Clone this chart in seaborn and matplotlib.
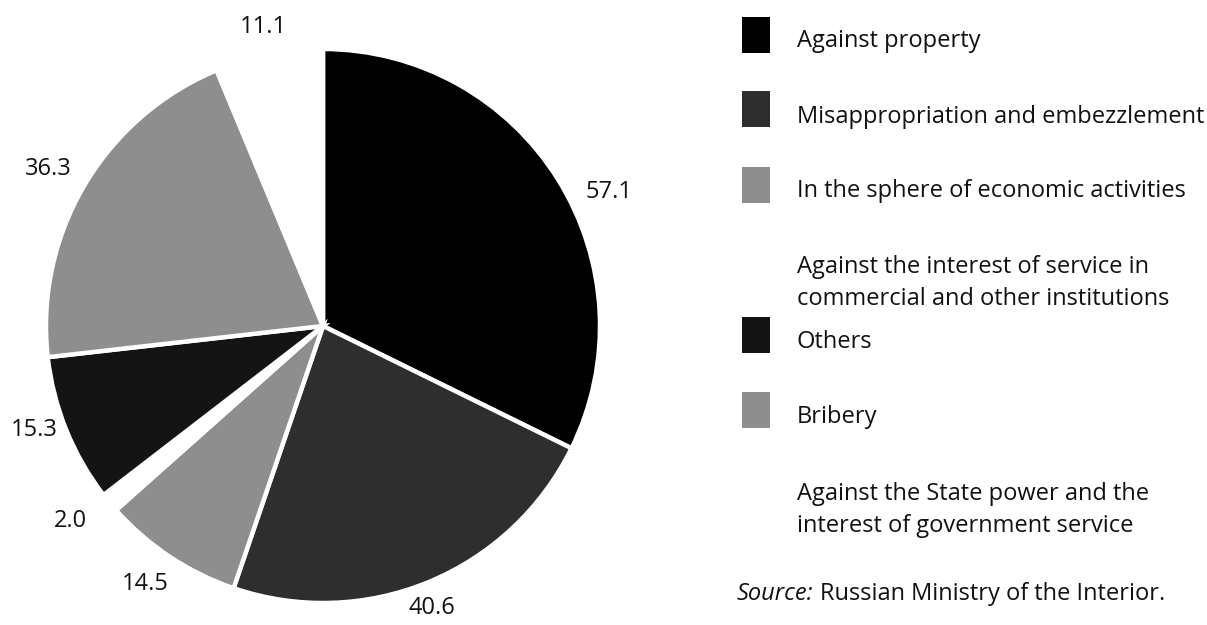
import matplotlib
matplotlib.use("Agg")
import matplotlib.pyplot as plt
from matplotlib.patches import Rectangle
import seaborn as sns

# Economic crime by category (recorded offences, thousands)
categories = [
    "Against property",
    "Misappropriation and embezzlement",
    "In the sphere of economic activities",
    "Against the interest of service in\ncommercial and other institutions",
    "Others",
    "Bribery",
    "Against the State power and the\ninterest of government service",
]
values = [57.1, 40.6, 14.5, 2.0, 15.3, 36.3, 11.1]
value_labels = ["57.1", "40.6", "14.5", "2.0", "15.3", "36.3", "11.1"]
source_label = "Russian Ministry of the Interior."

colors = ["#000000", "#2e2e2e", "#8e8e8e", "#ffffff", "#141414", "#8e8e8e", "#ffffff"]
# where each value label sits, in pie-radius units (x right, y up)
label_xy = [(1.032, 0.484), (0.394, -1.018), (-0.643, -0.931), (-0.910, -0.704),
            (-1.043, -0.375), (-0.993, 0.567), (-0.217, 1.079)]

sns.set_theme(style="white")
plt.rcParams["font.family"] = ["Open Sans", "DejaVu Sans"]

W, H = 1207, 625
fig = plt.figure(figsize=(W / 100, H / 100), dpi=100)
fig.patch.set_facecolor("white")

# pie: centre at (323, 326) px from the top-left corner, radius 277 px
cx, cy, r = 323, 326, 277
lim = 1.2
side = 2 * lim * r
ax = fig.add_axes([(cx - side / 2) / W, (H - cy - side / 2) / H, side / W, side / H])
ax.pie(values, colors=colors, startangle=90, counterclock=False, radius=1.0,
       wedgeprops=dict(edgecolor="white", linewidth=3.2))
ax.set_xlim(-lim, lim)
ax.set_ylim(-lim, lim)
ax.set_aspect("equal")
ax.axis("off")

fs = 17
ink = "#111111"
for txt, (lx, ly) in zip(value_labels, label_xy):
    ax.text(lx, ly, txt, ha="center", va="center", fontsize=fs, color=ink)


# legend, laid out in figure pixels
def fx(px):
    return px / W


def fy(py):
    return 1 - py / H


square_colors = ["#000000", "#2e2e2e", "#8e8e8e", None, "#141414", "#8e8e8e", None]
square_mid = [35, 109, 185, None, 335, 410, None]
baselines = [[47], [123], [197], [273, 305], [348], [423], [500, 532]]
sq_w, sq_h = 28, 36
for name, col, ym, bl in zip(categories, square_colors, square_mid, baselines):
    if col is not None:
        fig.patches.append(Rectangle((fx(742), fy(ym + sq_h / 2)), sq_w / W, sq_h / H,
                                     transform=fig.transFigure, facecolor=col,
                                     edgecolor="none"))
    for line, yb in zip(name.split("\n"), bl):
        fig.text(fx(797), fy(yb), line, ha="left", va="baseline", fontsize=fs, color=ink)

src = fig.text(fx(737), fy(600), "Source:", ha="left", va="baseline", fontsize=fs,
               style="italic", color=ink)
fig.canvas.draw()
bb = src.get_window_extent()
fig.text((bb.x1 + 6) / W, fy(600), source_label, ha="left", va="baseline",
         fontsize=fs, color=ink)

fig.savefig("out.png", dpi=100, facecolor="white")
